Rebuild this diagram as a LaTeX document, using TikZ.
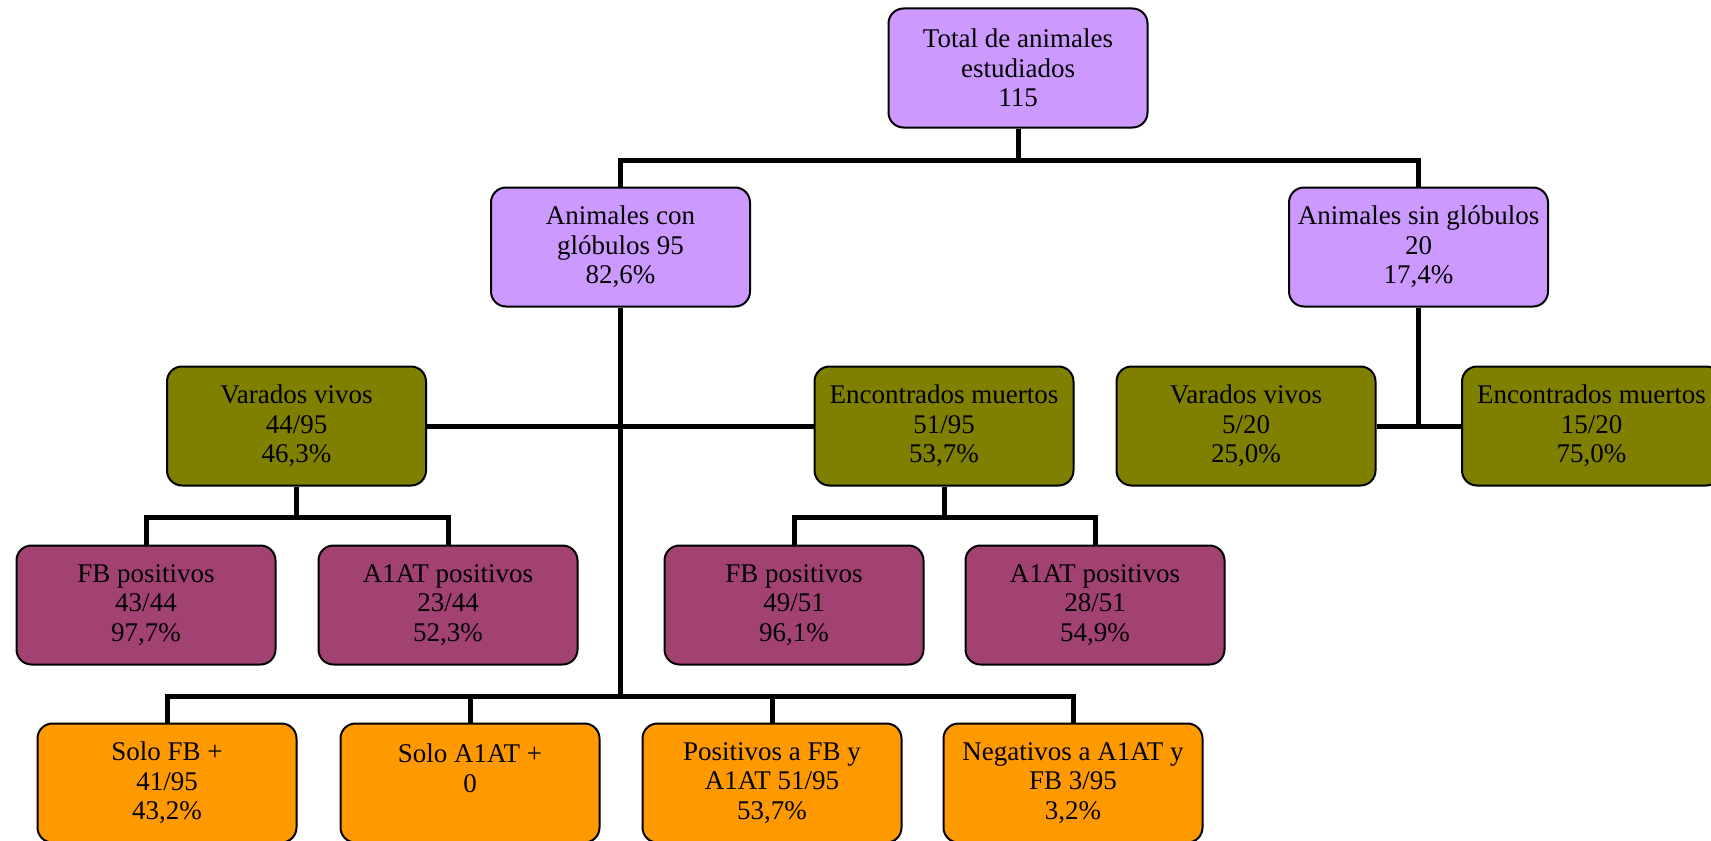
\documentclass[tikz,border=0pt]{standalone}
\usepackage{fontspec}
\setmainfont{Liberation Serif}
\definecolor{lila}{HTML}{CC99FF}
\definecolor{oliva}{HTML}{808000}
\definecolor{rosa}{RGB}{162,66,114}
\definecolor{naranja}{HTML}{FF9900}
\begin{document}
\begin{tikzpicture}[x=0.5pt,y=-0.5pt,
  caja/.style={draw,line width=1pt,rounded corners=7.5pt,minimum width=129.5pt,
    minimum height=59.5pt,align=center,inner sep=2pt,
    font=\fontsize{13.5}{14.8}\selectfont},
  lila/.style={caja,fill=lila},
  oliva/.style={caja,fill=oliva},
  rosa/.style={caja,fill=rosa},
  naranja/.style={caja,fill=naranja},
  enlace/.style={line width=2.5pt}]
\useasboundingbox (0,0) rectangle (1711,840);
% niveles de las lineas horizontales
\coordinate (busA) at (0,160);
\coordinate (busC) at (0,517);
\coordinate (busD) at (0,696);
% nodos
\node[lila] (total) at (1018,68) {Total de animales\\estudiados\\115};
\node[lila] (con) at (620.5,247) {Animales con\\glóbulos 95\\82,6\%};
\node[lila] (sin) at (1418.5,247) {Animales sin glóbulos\\20\\17,4\%};
\node[oliva] (vivosA) at (296.5,426) {Varados vivos\\44/95\\46,3\%};
\node[oliva] (muertosA) at (944,426) {Encontrados muertos\\51/95\\53,7\%};
\node[oliva] (vivosB) at (1246,426) {Varados vivos\\5/20\\25,0\%};
\node[oliva] (muertosB) at (1591.5,426) {Encontrados muertos\\15/20\\75,0\%};
\node[rosa] (fbA) at (146,605) {FB positivos\\43/44\\97,7\%};
\node[rosa] (atA) at (448,605) {A1AT positivos\\23/44\\52,3\%};
\node[rosa] (fbB) at (794,605) {FB positivos\\49/51\\96,1\%};
\node[rosa] (atB) at (1095,605) {A1AT positivos\\28/51\\54,9\%};
\node[naranja] (solofb) at (167,783) {Solo FB +\\41/95\\43,2\%};
\node[naranja] (soloat) at (470,783) {Solo A1AT +\\0\\\phantom{0}};
\node[naranja] (ambos) at (772,783) {Positivos a FB y\\A1AT 51/95\\53,7\%};
\node[naranja] (ninguno) at (1073,783) {Negativos a A1AT y\\FB 3/95\\3,2\%};
% conexiones
\draw[enlace] (total.south) -- (total.south |- busA) -| (con.north);
\draw[enlace] (total.south |- busA) -| (sin.north);
\draw[enlace] (con.south) -- (con.south |- busD);
\draw[enlace] (vivosA.east) -- (muertosA.west);
\draw[enlace] (vivosA.south) -- (vivosA.south |- busC);
\draw[enlace] (fbA.north) -- (fbA.north |- busC) -| (atA.north);
\draw[enlace] (muertosA.south) -- (muertosA.south |- busC);
\draw[enlace] (fbB.north) -- (fbB.north |- busC) -| (atB.north);
\draw[enlace] (sin.south) -- (sin.south |- vivosB.east);
\draw[enlace] (vivosB.east) -- (muertosB.west);
\draw[enlace] (solofb.north) -- (solofb.north |- busD) -| (ninguno.north);
\draw[enlace] (soloat.north) -- (soloat.north |- busD);
\draw[enlace] (ambos.north) -- (ambos.north |- busD);
\end{tikzpicture}
\end{document}
